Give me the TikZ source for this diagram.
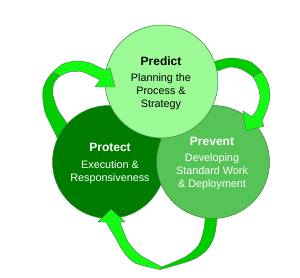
\documentclass[tikz,border=0pt]{standalone}
\usepackage{fontspec}
\setmainfont{Liberation Sans}
\definecolor{predictc}{RGB}{155,250,150}
\definecolor{preventc}{RGB}{85,195,85}
\definecolor{protectc}{RGB}{0,125,0}
\definecolor{arrowlt}{RGB}{20,250,20}
\definecolor{arrowdk}{RGB}{0,205,0}
\definecolor{edgec}{RGB}{60,130,60}
\begin{document}
\begin{tikzpicture}[x=1pt,y=-1pt,
 disc/.style={circle,draw=edgec,line width=0.5pt,minimum size=113pt,inner sep=0pt},
 ttl/.style={font=\fontsize{12}{14}\selectfont\bfseries},
 body/.style={font=\fontsize{10.8}{13}\selectfont,align=center},
 arrbright/.style={fill=arrowlt,draw=edgec,line width=0.4pt,line join=round},
 arrdark/.style={fill=arrowdk,draw=edgec,line width=0.4pt,line join=round}]
\useasboundingbox[fill=white] (0,0) rectangle (300,278);
% left arrow tail
\path[arrdark] plot[smooth] coordinates {(58,140) (55,133) (45,112) (42.7,92) (46.7,80) (53,72)}
  -- plot[smooth] coordinates {(60,76) (54,83) (53,95) (58,110) (66.7,123) (70,132)} -- cycle;
\node[disc,fill=protectc] (protect) at (109,162) {};
% bottom arrow
\path[arrdark] plot[smooth] coordinates {(218,210) (216.7,222) (214,237) (206.7,250) (192,260) (160,269.5)}
  -- plot[smooth] coordinates {(162,267) (185,257) (198,246) (203,233) (205,220) (204,210)} -- cycle;
\path[arrbright] plot[smooth] coordinates {(160,269.5) (135,263) (123,251) (115,237) (106,222)}
  -- (98,222) -- (111,209) -- (125,222)
  -- plot[smooth] coordinates {(120,222) (128,241.7) (140,255) (162,267)} -- cycle;
\node[disc,fill=preventc] (prevent) at (213,162) {};
% right arrow
\path[arrdark] plot[smooth] coordinates {(210,63) (230,58) (250,61.7) (261.7,71.7)}
  -- plot[smooth] coordinates {(253,76.7) (243,70) (230,67) (212,73)} -- cycle;
\path[arrbright] plot[smooth] coordinates {(261.7,71.7) (268,83) (270,96.7) (266.7,110) (262,121)}
  -- (264,126) -- (246,131) -- (243,111)
  -- plot[smooth] coordinates {(251.7,116.7) (256.7,110) (260,98) (258,86.7) (253,76.7)} -- cycle;
\node[disc,fill=predictc] (predict) at (161.5,81.5) {};
% left arrow head
\path[arrbright] plot[smooth] coordinates {(53,72) (63,64) (76.7,61) (90,63) (100,67.7) (105,70)}
  -- (110,68) -- (115,87) -- (95,87)
  -- plot[smooth] coordinates {(100,80) (95,77.5) (83,72) (70,71.7) (60,76)} -- cycle;
% texts
\node[ttl] (predictT) at (161,61) {Predict};
\node[body] (predictB) at (161,92) {Planning the\\Process \&\\Strategy};
\node[ttl,white] (protectT) at (110,147) {Protect};
\node[body,white] (protectB) at (110,171.75) {Execution \&\\Responsiveness};
\node[ttl,white] (preventT) at (212,141) {Prevent};
\node[body,white] (preventB) at (212,171.5) {Developing\\Standard Work\\\& Deployment};
\end{tikzpicture}
\end{document}
